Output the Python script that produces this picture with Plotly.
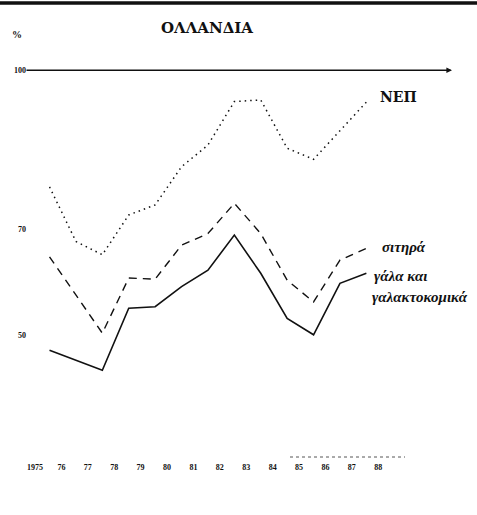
import plotly.graph_objects as go

years = [1975, 1976, 1977, 1978, 1979, 1980, 1981, 1982, 1983, 1984, 1985, 1986, 1987]
nep = [78.0, 67.7, 65.2, 72.7, 74.6, 81.8, 85.9, 94.1, 94.4, 85.3, 83.2, 88.5, 94.0]
sitira = [64.8, 57.6, 50.4, 60.8, 60.6, 67.0, 69.2, 74.9, 69.2, 60.4, 56.3, 64.2, 66.4]
gala = [47.2, 45.3, 43.4, 55.1, 55.4, 59.2, 62.3, 68.9, 61.7, 53.2, 50.1, 59.8, 61.7]

tick_years = list(range(1975, 1989))
tick_text = ["1975"] + [str(y)[2:] for y in tick_years[1:]]
y_ticks = [100, 70, 50]
y_tick_text = ["100", "70", "50"]

ink = "#111111"
serif = "Liberation Serif"
wide_serif = "DejaVu Serif"

fig = go.Figure()
fig.add_trace(go.Scatter(x=years, y=nep, mode="lines", name="ΝΕΠ",
                         line=dict(color=ink, width=1.5, dash="1.5px,4px")))
fig.add_trace(go.Scatter(x=years, y=sitira, mode="lines", name="σιτηρά",
                         line=dict(color=ink, width=1.4, dash="8px,6px")))
fig.add_trace(go.Scatter(x=years, y=gala, mode="lines", name="γάλα και γαλακτοκομικά",
                         line=dict(color=ink, width=1.6)))

fig.update_layout(
    width=477, height=515,
    margin=dict(l=35, r=0, t=0, b=58),
    paper_bgcolor="white", plot_bgcolor="white",
    showlegend=False,
    title=dict(text="<b>ΟΛΛΑΝΔΙΑ</b>", x=207/477, y=1-28/515, xanchor="center", yanchor="middle",
               font=dict(family=wide_serif, size=15, color=ink)),
    xaxis=dict(range=[1974.45, 1991.19], showgrid=False, zeroline=False, showline=False,
               tickvals=[y - 0.55 for y in tick_years], ticktext=[f"<b>{t}</b>" for t in tick_text],
               tickfont=dict(family=serif, size=8, color=ink), ticks="", ticklabelstandoff=4),
    yaxis=dict(range=[27.04, 113.26], showgrid=False, zeroline=False, showline=False,
               tickvals=y_ticks, ticktext=[f"<b>{t}</b>" for t in y_tick_text], ticks="",
               tickfont=dict(family=serif, size=8, color=ink), ticklabelstandoff=8),
)

# top border
fig.add_shape(type="line", xref="paper", yref="paper", x0=-35/442, x1=1, y0=1-3/457, y1=1-3/457,
              line=dict(color=ink, width=3.5))
# faint partial baseline
fig.add_shape(type="line", xref="paper", yref="paper", x0=(290-35)/442, x1=(405-35)/442, y0=0, y1=0,
              line=dict(color="#555555", width=1, dash="dot"))
# 100% reference arrow
fig.add_annotation(xref="paper", yref="y", x=(452-35)/442, y=100, axref="pixel", ayref="pixel",
                   ax=-427, ay=0, text="", showarrow=True, arrowhead=2, arrowsize=0.8,
                   arrowwidth=1.4, arrowcolor=ink)
# percent sign
fig.add_annotation(xref="paper", yref="paper", x=(10-35)/442, y=1-27/457, text="<b>%</b>",
                   showarrow=False, font=dict(family=serif, size=10, color=ink))

labels = [
    ("<b>ΝΕΠ</b>", 1987.44, 94.96, wide_serif, 14),
    ("<b><i>σιτηρά</i></b>", 1987.52, 66.66, serif, 15),
    ("<b><i>γάλα και</i></b>", 1987.2, 61.19, serif, 15),
    ("<b><i>γαλακτοκομικά</i></b>", 1987.14, 57.2, serif, 15),
]
for text, x, y, fam, size in labels:
    fig.add_annotation(x=x, y=y, text=text, showarrow=False, xanchor="left", yanchor="middle",
                       font=dict(family=fam, size=size, color=ink))

fig.write_html("out.html", config={"displayModeBar": False},
               post_script="document.body.style.margin='0';document.body.style.overflow='hidden';")
